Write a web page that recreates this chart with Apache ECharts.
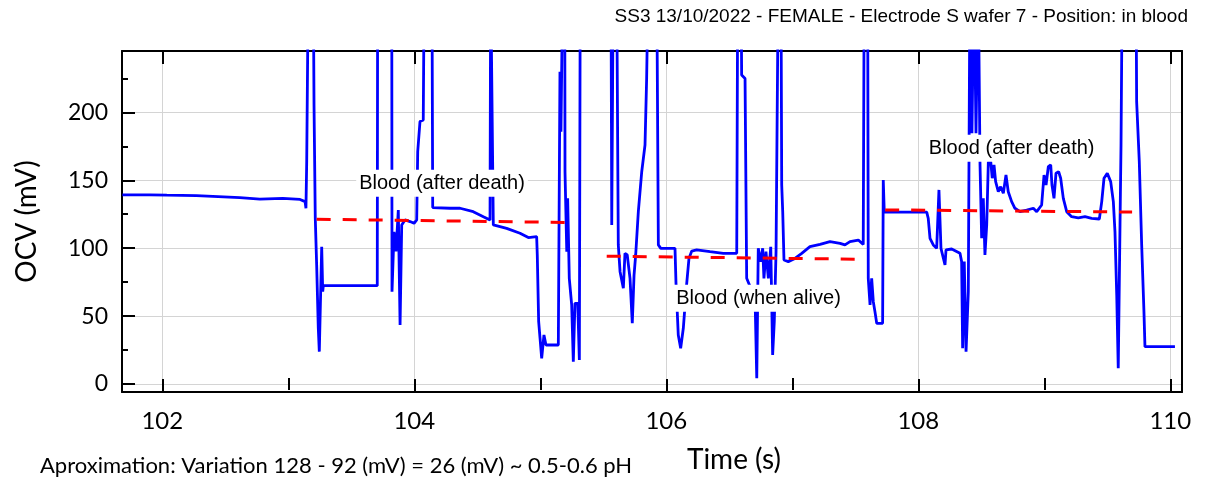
<!DOCTYPE html>
<html>
<head>
<meta charset="utf-8">
<script src="https://cdn.jsdelivr.net/npm/echarts@6.0.0/dist/echarts.min.js"></script>
<style>
html,body{margin:0;padding:0;background:#fff;}
#chart{width:1209px;height:483px;}
</style>
</head>
<body>
<div id="chart"></div>
<script>
// ---- data ----
const time = [
101.683,101.900,102.036,102.271,102.615,102.774,102.956,103.093,103.133,103.140,
103.146,103.159,103.198,103.204,103.214,103.225,103.238,103.246,103.252,103.265,
103.273,103.278,103.706,103.709,103.821,103.823,103.839,103.855,103.873,103.887,
103.900,103.926,103.966,103.998,104.019,104.027,104.045,104.071,104.079,104.140,
104.146,104.283,104.363,104.468,104.548,104.601,104.606,104.619,104.627,104.733,
104.839,104.905,104.971,104.976,104.987,104.998,105.011,105.029,105.045,105.143,
105.146,105.156,105.164,105.178,105.194,105.196,105.210,105.217,105.230,105.249,
105.262,105.275,105.297,105.310,105.317,105.561,105.567,105.579,105.606,105.619,
105.633,105.659,105.672,105.690,105.712,105.730,105.744,105.757,105.778,105.805,
105.831,105.844,105.857,105.924,105.937,105.956,106.069,106.077,106.095,106.114,
106.135,106.162,106.180,106.202,106.241,106.347,106.452,106.559,106.567,106.593,
106.598,106.625,106.638,106.664,106.704,106.718,106.730,106.749,106.765,106.775,
106.791,106.810,106.829,106.844,106.857,106.871,106.889,106.910,106.916,106.924,
106.934,106.968,107.021,107.075,107.140,107.220,107.299,107.379,107.418,107.458,
107.524,107.563,107.571,107.598,107.603,107.617,107.630,107.643,107.656,107.670,
107.717,107.722,107.730,108.067,108.079,108.093,108.119,108.146,108.164,108.180,
108.212,108.220,108.265,108.331,108.344,108.352,108.365,108.379,108.397,108.410,
108.426,108.442,108.458,108.476,108.490,108.503,108.516,108.529,108.543,108.556,
108.575,108.587,108.601,108.614,108.635,108.654,108.675,108.696,108.714,108.741,
108.767,108.807,108.860,108.913,108.940,108.952,108.979,108.998,109.014,109.032,
109.051,109.061,109.077,109.093,109.114,109.130,109.151,109.178,109.217,109.270,
109.323,109.376,109.437,109.456,109.474,109.500,109.527,109.548,109.561,109.575,
109.587,109.601,109.609,109.619,109.728,109.733,109.754,109.773,109.791,109.799,
110.037
];
const ocv = [
139.2,139.2,139.0,138.7,137.2,136.2,136.7,135.9,134.3,129.4,
163.7,300,300,205.4,122,87.6,41,23.8,25,101,
68,72.4,72.4,300,300,68,112,97.6,128.1,43.4,
117,120.8,119.6,118.3,120.8,171,193.2,194.4,300,300,
129.9,129.4,129.4,126.9,123.2,120.8,300,300,117.1,114.6,
111,107.8,108.5,95,45.9,33.6,18.9,36.1,28.7,28.7,
75.3,230,185.8,300,300,156.3,97.4,136.7,77.8,58.2,
16.4,59.4,59.4,17.7,300,300,117.1,300,300,102.4,
82.7,70.5,96.2,95,77.8,44.7,80.2,95,126.9,156.3,
176,225,300,300,102.4,99.9,99.9,74.1,36.1,26.3,
41,74.1,92.5,97.9,98.7,97.4,96.2,96.2,300,300,
227.5,225,77.8,72,65,4.2,99.9,90.1,99.9,77.8,
97.4,77.8,101,21.4,45.9,97.4,300,300,146.5,126.9,
91.3,90.1,92.5,96.2,101.1,102.8,104.8,103.6,102.4,104.8,
106,102.8,300,300,77.8,58.2,77.8,60.6,53.3,44.7,
44.7,150.2,126.5,126.5,122,107.3,102.4,99.9,142.9,99.9,
87.6,98.7,99.4,96.2,90.1,26.3,90.1,23.8,68,300,
184.6,300,184.6,300,161.3,107.3,136.7,95,117.1,163.7,
163.7,151.5,161.3,149,141.6,145.3,140.4,153.9,141.6,134.3,
129.4,126.9,128.1,129.4,126.9,125.7,131.8,153.9,146.5,160,
161.3,146.5,136.7,155.2,156.3,151.5,136.7,126.9,123.2,122.4,
123.2,122,121.5,134.3,151.5,155.2,149,134.3,112.2,65.6,
11.6,117.1,176,300,300,207.9,163.7,102.4,53.3,27.5,
27.5
];
// red dashed approximation lines: [startTime, endTime], [startOCV, endOCV]
const fitAfterDeath1Time = [103.225, 105.196];
const fitAfterDeath1Ocv  = [121.3, 119.0];
const fitAliveTime = [105.527, 107.498];
const fitAliveOcv  = [94.1, 91.9];
const fitAfterDeath2Time = [107.737, 109.697];
const fitAfterDeath2Ocv  = [128.2, 126.6];
// annotation labels
const annotationText = ['Blood (after death)', 'Blood (when alive)', 'Blood (after death)'];
const annotationTime = [104.22, 106.732, 108.741];
const annotationOcv  = [147.8, 63.1, 173.6];
// axis ticks
const xMajorTicks = [102, 104, 106, 108, 110];
const xMinorTicks = [103, 105, 107, 109];
const yMajorTicks = [0, 50, 100, 150, 200];
const yMinorTicks = [25, 75, 125, 175, 225];
const xRange = [101.68, 110.093];
const yRange = [-5.9, 245.2];

const titleText = 'SS3 13/10/2022 - FEMALE - Electrode S wafer 7 - Position: in blood';
const noteText = 'Aproximation: Variation 128 - 92 (mV) = 26 (mV) ~ 0.5-0.6 pH';

const pair = (xs, ys) => xs.map((x, i) => [x, ys[i]]);
const labelFont = 'Lato';
const black = '#000';

function xAxisDef(position, ticks, len, extra) {
  return Object.assign({
    type: 'value', gridIndex: 0, position: position, min: xRange[0], max: xRange[1],
    axisLine: {show: false},
    axisTick: {show: true, inside: true, length: len, customValues: ticks, lineStyle: {color: black, width: 2}},
    axisLabel: {show: false},
    splitLine: {show: false}
  }, extra || {});
}
function yAxisDef(position, ticks, len, extra) {
  return Object.assign({
    type: 'value', gridIndex: 0, position: position, min: yRange[0], max: yRange[1],
    axisLine: {show: false},
    axisTick: {show: true, inside: true, length: len, customValues: ticks, lineStyle: {color: black, width: 2}},
    axisLabel: {show: false},
    splitLine: {show: false}
  }, extra || {});
}

const chart = echarts.init(document.getElementById('chart'), null, {renderer: 'canvas'});
chart.setOption({
  animation: false,
  backgroundColor: '#fff',
  title: [
    {text: titleText, right: 21, top: 7, padding: 0,
     textStyle: {fontFamily: 'Liberation Sans', fontSize: 19, fontWeight: 'normal', color: black}},
    {text: noteText, left: 40, top: 455, padding: 0,
     textStyle: {fontFamily: labelFont, fontSize: 22, fontWeight: 'normal', color: black}}
  ],
  grid: {left: 122, right: 27, top: 51, bottom: 91, containLabel: false},
  xAxis: [
    xAxisDef('bottom', xMajorTicks, 13, {
      axisLine: {show: true, onZero: false, lineStyle: {color: black, width: 2}},
      axisLabel: {show: true, customValues: xMajorTicks, margin: 17, fontFamily: labelFont, fontSize: 24, color: black},
      splitLine: {show: true, lineStyle: {color: '#d4d4d4', width: 1}},
      name: 'Time (s)', nameLocation: 'middle', nameGap: 54,
      nameTextStyle: {fontFamily: labelFont, fontSize: 28, color: black, padding: [0, 0, 0, 164]}
    }),
    xAxisDef('bottom', xMinorTicks, 6),
    xAxisDef('top', xMajorTicks, 13, {axisLine: {show: true, onZero: false, lineStyle: {color: black, width: 2}}}),
    xAxisDef('top', xMinorTicks, 6)
  ],
  yAxis: [
    yAxisDef('left', yMajorTicks, 13, {
      axisLine: {show: true, onZero: false, lineStyle: {color: black, width: 2}},
      axisLabel: {show: true, customValues: yMajorTicks, margin: 14, fontFamily: labelFont, fontSize: 23, color: black},
      splitLine: {show: true, lineStyle: {color: '#d4d4d4', width: 1}},
      name: 'OCV (mV)', nameLocation: 'middle', nameGap: 81, nameRotate: 90,
      nameTextStyle: {fontFamily: labelFont, fontSize: 28, color: black}
    }),
    yAxisDef('left', yMinorTicks, 6),
    yAxisDef('right', [], 0, {axisTick: {show: false}, axisLine: {show: true, onZero: false, lineStyle: {color: black, width: 2}}})
  ],
  series: [
    {
      name: 'OCV', type: 'line', xAxisIndex: 0, yAxisIndex: 0,
      data: pair(time, ocv), showSymbol: false, symbol: 'none', clip: true,
      lineStyle: {color: '#0000ff', width: 2.8}, z: 2
    },
    {
      name: 'fit1', type: 'line', xAxisIndex: 0, yAxisIndex: 0,
      data: pair(fitAfterDeath1Time, fitAfterDeath1Ocv), showSymbol: false, symbol: 'none',
      lineStyle: {color: '#ff0000', width: 3, type: [14, 12]}, z: 3
    },
    {
      name: 'fit2', type: 'line', xAxisIndex: 0, yAxisIndex: 0,
      data: pair(fitAliveTime, fitAliveOcv), showSymbol: false, symbol: 'none',
      lineStyle: {color: '#ff0000', width: 3, type: [14, 12]}, z: 3
    },
    {
      name: 'fit3', type: 'line', xAxisIndex: 0, yAxisIndex: 0,
      data: pair(fitAfterDeath2Time, fitAfterDeath2Ocv), showSymbol: false, symbol: 'none',
      lineStyle: {color: '#ff0000', width: 3, type: [14, 12]}, z: 3
    },
    {
      name: 'labels', type: 'scatter', xAxisIndex: 0, yAxisIndex: 0,
      symbolSize: 1, itemStyle: {color: '#ffffff', opacity: 1}, z: 10, silent: true,
      data: annotationText.map((t, i) => ({name: t, value: [annotationTime[i], annotationOcv[i]]})),
      label: {
        show: true, position: 'inside', formatter: p => p.name, opacity: 1,
        fontFamily: 'Liberation Sans', fontSize: 20, fontWeight: 'normal', color: '#000000',
        textBorderWidth: 0, backgroundColor: '#ffffff', padding: [4, 3, 3, 3]
      }
    }
  ]
});
</script>
</body>
</html>
